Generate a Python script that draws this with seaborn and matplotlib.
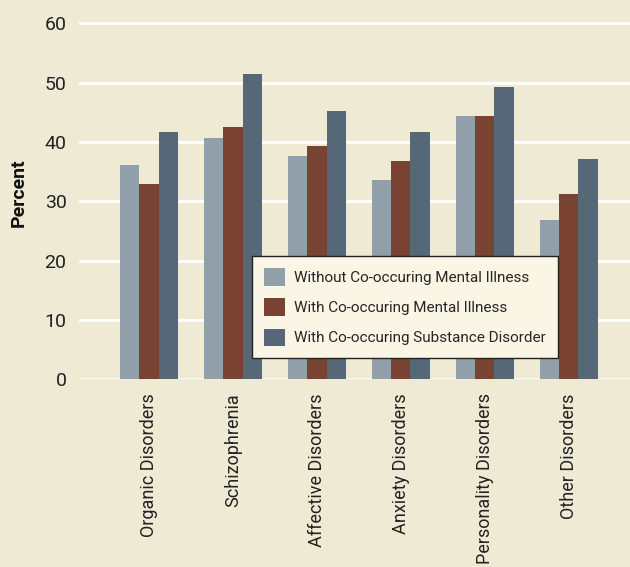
import matplotlib
matplotlib.use("Agg")
import matplotlib.pyplot as plt
import pandas as pd
import seaborn as sns

categories = ["Organic Disorders", "Schizophrenia", "Affective Disorders",
              "Anxiety Disorders", "Personality Disorders", "Other Disorders"]
series_names = ["Without Co-occuring Mental Illness",
                "With Co-occuring Mental Illness",
                "With Co-occuring Substance Disorder"]
without_mi = [36.1, 40.6, 37.7, 33.6, 44.3, 26.8]
with_mi = [32.9, 42.6, 39.4, 36.8, 44.3, 31.3]
with_sd = [41.7, 51.4, 45.3, 41.6, 49.2, 37.2]
y_ticks = [0, 10, 20, 30, 40, 50, 60]

colors = ["#919fab", "#7a4232", "#566878"]
bg = "#efead4"

rows = []
for name, vals in zip(series_names, [without_mi, with_mi, with_sd]):
    for cat, v in zip(categories, vals):
        rows.append({"category": cat, "series": name, "value": v})
df = pd.DataFrame(rows)

sns.set_style("white")
plt.rcParams["font.family"] = ["Roboto", "DejaVu Sans"]

fig = plt.figure(figsize=(6.3, 5.67), dpi=100, facecolor=bg)
ax = fig.add_axes([79 / 630, 1 - 379.3 / 567, 1 - 79 / 630, (379.3 - 5.5) / 567])
ax.set_facecolor(bg)

sns.barplot(data=df, x="category", y="value", hue="series", order=categories,
            hue_order=series_names, palette=colors, width=0.69, saturation=1,
            linewidth=0, ax=ax, zorder=3)

ax.set_ylim(0, 63)
ax.set_xlim(-0.833, 5.73)
ax.set_yticks(y_ticks)
ax.yaxis.grid(True, color="white", linewidth=2)
ax.set_axisbelow(True)
for s in ax.spines.values():
    s.set_visible(False)
ax.tick_params(axis="y", length=0, labelsize=14, colors="#222222", pad=9)
ax.tick_params(axis="x", length=0, labelsize=13, colors="#222222",
               labelrotation=90, pad=10)
ax.set_xlabel("")
ax.set_ylabel("Percent", fontsize=14, fontweight="bold", color="#111111", labelpad=12)

leg = ax.legend(loc="lower left", bbox_to_anchor=(252 / 630, 1 - 358 / 567),
                bbox_transform=fig.transFigure, frameon=True, fancybox=False,
                fontsize=11, handlelength=1.35, handleheight=1.35, handletextpad=0.6,
                labelspacing=0.85, borderpad=0.8, borderaxespad=0, title=None)
leg.get_frame().set_facecolor("#faf5e4")
leg.get_frame().set_edgecolor("#222222")
leg.get_frame().set_linewidth(1)
leg.get_frame().set_alpha(1)
leg.set_zorder(5)

fig.savefig("out.png", dpi=100, facecolor=bg)
